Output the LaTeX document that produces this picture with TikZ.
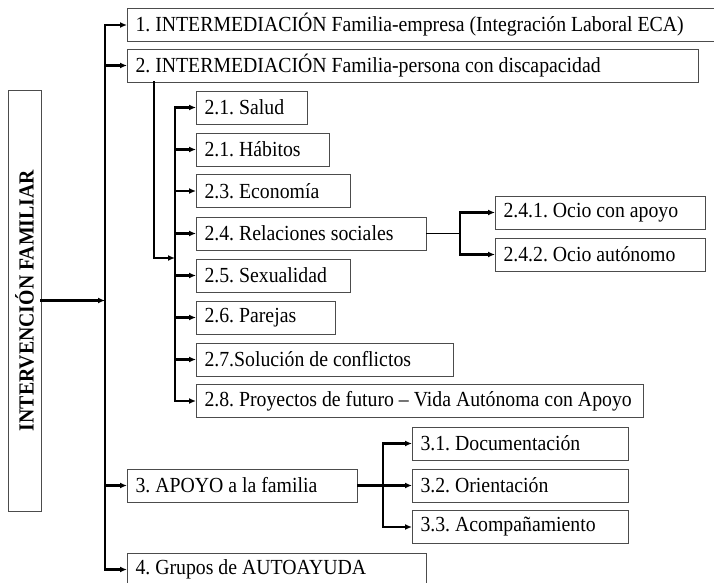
\documentclass[tikz,border=0pt]{standalone}
\usepackage{graphicx}
\usepackage{fontspec}
\setmainfont{Liberation Serif}[FakeStretch=0.92]
\usetikzlibrary{arrows.meta}
\tikzstyle{box}=[draw=black!70, line width=1pt, rectangle, anchor=west,% boxes with fixed widths
inner xsep=8pt, inner ysep=0pt, minimum height=33pt, font=\fontsize{21.5}{24}\selectfont\frenchspacing]
\tikzstyle{mainbox}=[draw=black!70, line width=1pt, rectangle, minimum width=33pt,
minimum height=421pt, inner sep=0pt, font=\fontsize{21.5}{24}\selectfont\bfseries]
\tikzstyle{conn}=[line width=2.2pt, line cap=rect, black]
\tikzstyle{arr}=[conn, -{Latex[length=7pt,width=6pt]}]
\newcommand{\itemtxt}[2]{\makebox[#1][l]{#2}}

\begin{document}
\begin{tikzpicture}[x=1pt,y=-1pt]
\useasboundingbox (0,0) rectangle (714,582);
\node[mainbox] (main) at (24.5,300.5) {\rotatebox{90}{INTERVENCIÓN FAMILIAR}};

\node[box] (b1) at (127,25) {\itemtxt{573pt}{1. INTERMEDIACIÓN Familia-empresa (Integración Laboral ECA)}};
\node[box] (b2) at (127,65.5) {\itemtxt{555pt}{2. INTERMEDIACIÓN Familia-persona con discapacidad}};
\node[box] (s1) at (196,107.5) {\itemtxt{95pt}{2.1. Salud}};
\node[box] (s2) at (196,149.5) {\itemtxt{117pt}{2.1. Hábitos}};
\node[box] (s3) at (196,191) {\itemtxt{138pt}{2.3. Economía}};
\node[box] (s4) at (196,233.5) {\itemtxt{214pt}{2.4. Relaciones sociales}};
\node[box] (s5) at (196,275.5) {\itemtxt{138pt}{2.5. Sexualidad}};
\node[box] (s6) at (196,317.5) {\itemtxt{123pt}{2.6. Parejas}};
\node[box] (s7) at (196,359.5) {\itemtxt{241pt}{2.7.Solución de conflictos}};
\node[box] (s8) at (196,401) {\itemtxt{431pt}{2.8. Proyectos de futuro – Vida Autónoma con Apoyo}};
\node[box] (r1) at (495,212.5) {\itemtxt{194pt}{2.4.1. Ocio con apoyo}};
\node[box] (r2) at (495,254.5) {\itemtxt{194pt}{2.4.2. Ocio autónomo}};
\node[box] (b3) at (127,485.5) {\itemtxt{214pt}{3. APOYO a la familia}};
\node[box] (t1) at (412,443.5) {\itemtxt{200pt}{3.1. Documentación}};
\node[box] (t2) at (412,485.5) {\itemtxt{200pt}{3.2. Orientación}};
\node[box] (t3) at (412,527) {\itemtxt{200pt}{3.3. Acompañamiento}};
\node[box] (b4) at (127,569.5) {\itemtxt{283pt}{4. Grupos de AUTOAYUDA}};

\coordinate (trunk) at (105,0);
\coordinate (drop2) at (154,258);
\coordinate (join2) at (175,258);
\coordinate (fork4) at (460,0);
\coordinate (fork3) at (383,0);

% main level
\draw [arr] (main.east) -- (main.east -| trunk);
\draw [conn] (b1.west -| trunk) -- (b4.west -| trunk);
\draw [arr] (b1.west -| trunk) -- (b1.west);
\draw [arr] (b2.west -| trunk) -- (b2.west);
\draw [arr] (b3.west -| trunk) -- (b3.west);
\draw [arr] (b4.west -| trunk) -- (b4.west);

% level 2
\draw [arr] (b2.south -| drop2) -- (drop2) -- (join2);
\draw [conn] (s1.west -| join2) -- (s8.west -| join2);
\draw [arr] (s1.west -| join2) -- (s1.west);
\draw [arr] (s2.west -| join2) -- (s2.west);
\draw [arr] (s3.west -| join2) -- (s3.west);
\draw [arr] (s4.west -| join2) -- (s4.west);
\draw [arr] (s5.west -| join2) -- (s5.west);
\draw [arr] (s6.west -| join2) -- (s6.west);
\draw [arr] (s7.west -| join2) -- (s7.west);
\draw [arr] (s8.west -| join2) -- (s8.west);

% 2.4
\draw [conn, line width=1.2pt] (s4.east) -- (s4.east -| fork4);
\draw [conn] (r1.west -| fork4) -- (r2.west -| fork4);
\draw [arr] (r1.west -| fork4) -- (r1.west);
\draw [arr] (r2.west -| fork4) -- (r2.west);

% level 3
\draw [conn] (b3.east) -- (b3.east -| fork3);
\draw [conn] (t1.west -| fork3) -- (t3.west -| fork3);
\draw [arr] (t1.west -| fork3) -- (t1.west);
\draw [arr] (t2.west -| fork3) -- (t2.west);
\draw [arr] (t3.west -| fork3) -- (t3.west);
\end{tikzpicture}
\end{document}
